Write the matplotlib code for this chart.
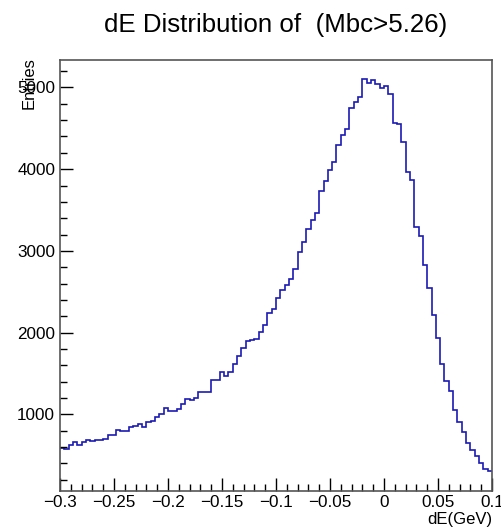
import numpy as np
import matplotlib
matplotlib.use("Agg")
import matplotlib.pyplot as plt
from matplotlib.ticker import MultipleLocator

plt.rcParams["font.family"] = ["Liberation Sans", "DejaVu Sans"]

# dE histogram, 100 bins from -0.3 to 0.1 GeV
x_min, x_max, n_bins = -0.3, 0.1, 100
counts = [
    591, 571, 625, 657, 620, 657, 681, 669, 681, 689,
    697, 746, 746, 808, 795, 795, 849, 861, 877, 849,
    910, 922, 970, 1000, 1077, 1040, 1040, 1063, 1132, 1192,
    1180, 1206, 1275, 1275, 1277, 1418, 1418, 1516, 1467, 1524,
    1610, 1718, 1814, 1902, 1912, 1924, 2006, 2092, 2237, 2290,
    2428, 2516, 2584, 2661, 2784, 2992, 3114, 3271, 3374, 3463,
    3739, 3860, 3984, 4082, 4290, 4421, 4490, 4747, 4821, 4882,
    5102, 5058, 5090, 5045, 4996, 5012, 4923, 4564, 4555, 4333,
    3970, 3870, 3290, 3184, 2825, 2547, 2220, 1934, 1616, 1404,
    1289, 1053, 910, 783, 644, 563, 489, 400, 326, 302,
]
edges = np.linspace(x_min, x_max, n_bins + 1)

fig = plt.figure(figsize=(5.01, 5.30), dpi=100)
ax = fig.add_axes([60/501, 1-491/530, 432/501, 431.5/530])

ax.stairs(counts, edges, color="#1a1ab4", linewidth=1.2, baseline=None)

ax.set_xlim(x_min, x_max)
ax.set_ylim(62, 5342)
ax.xaxis.set_major_locator(MultipleLocator(0.05))
ax.xaxis.set_minor_locator(MultipleLocator(0.01))
ax.yaxis.set_major_locator(MultipleLocator(1000))
ax.yaxis.set_minor_locator(MultipleLocator(200))
ax.xaxis.set_major_formatter(plt.FuncFormatter(lambda v, p: "0" if abs(v) < 1e-9 else f"{v:g}".replace("-", "\u2212")))

ax.tick_params(which="both", direction="in", top=False, right=False, color="black", labelsize=12.3)
ax.tick_params(which="major", length=12.7/1.389, width=1)
ax.tick_params(which="minor", length=6.7/1.389, width=1)
ax.tick_params(axis="x", pad=2.9)
ax.tick_params(axis="y", pad=3.5)
for s in ax.spines.values():
    s.set_color("#555555")
    s.set_linewidth(1.2)

fig.text(276/501, 1-31.7/530, "dE Distribution of  (Mbc>5.26)", ha="center", va="baseline", fontsize=18.6)
fig.text(29/501, 1-57/530, "Entries", rotation=90, ha="center", va="top", fontsize=12)
fig.text(492/501, 1-524/530, "dE(GeV)", ha="right", va="baseline", fontsize=12)

fig.savefig("out.png", dpi=100)
